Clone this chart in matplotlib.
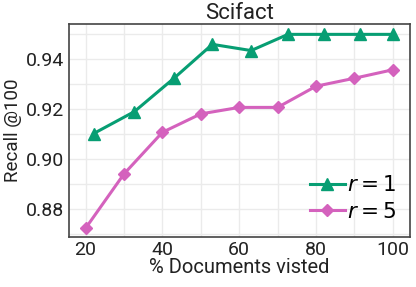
import numpy as np
import matplotlib
matplotlib.use('Agg')
import matplotlib.pyplot as plt
from matplotlib.ticker import MultipleLocator

# data
x_r1 = [22.1, 32.7, 43.1, 53.0, 63.1, 72.7, 82.1, 91.4, 100.0]
recall_r1 = [0.9102, 0.9190, 0.9325, 0.9460, 0.9435, 0.9500, 0.9500, 0.9500, 0.9500]
x_r5 = [20, 30, 40, 50, 60, 70, 80, 90, 100]
recall_r5 = [0.8722, 0.8940, 0.9107, 0.9181, 0.9207, 0.9207, 0.9292, 0.9324, 0.9358]

plt.rcParams['font.family'] = ['Roboto', 'DejaVu Sans']
plt.rcParams['mathtext.fontset'] = 'dejavusans'

fig, ax = plt.subplots(figsize=(4.16, 2.87), dpi=100)
ax.plot(x_r1, recall_r1, '-^', color='#079e73', lw=2.2, ms=8, label='$r = 1$')
ax.plot(x_r5, recall_r5, '-D', color='#d462bd', lw=2.2, ms=6.5, label='$r = 5$')

ax.set_xlim(15.6, 104.4)
ax.set_ylim(0.8688, 0.9540)
ax.xaxis.set_major_locator(MultipleLocator(20))
ax.xaxis.set_minor_locator(MultipleLocator(10))
ax.yaxis.set_major_locator(MultipleLocator(0.02))
ax.yaxis.set_minor_locator(MultipleLocator(0.01))
ax.grid(which='both', color='#ebebeb', lw=1)
ax.set_axisbelow(True)
for s in ax.spines.values():
    s.set_color('#444444')
    s.set_linewidth(1.2)
ax.tick_params(which='both', length=0, labelsize=14, colors='#222222', pad=3)

ax.set_title('Scifact', fontsize=16, pad=2, color='#222222')
ax.set_xlabel('% Documents visted', fontsize=14.5, labelpad=-1, color='#222222')
ax.set_ylabel('Recall @100', fontsize=13.5, labelpad=3, color='#222222')
ax.legend(loc='lower right', frameon=False, fontsize=15.5, handlelength=1.6,
          handletextpad=0.1, labelspacing=0.25, borderaxespad=0.25)

fig.subplots_adjust(left=0.165, right=0.985, top=0.915, bottom=0.175)
fig.savefig('out.png', dpi=100)
